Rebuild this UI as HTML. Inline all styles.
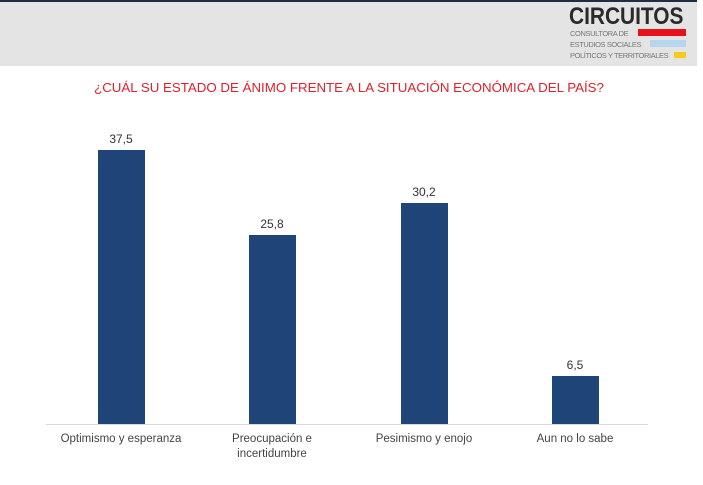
<!DOCTYPE html>
<html><head><meta charset="utf-8"><style>
body{margin:0;width:703px;height:485px;background:#fff;position:relative;overflow:hidden;font-family:"Liberation Sans",sans-serif}
.a{position:absolute}
.bar{position:absolute;background:#1f4477;width:47px}
.v{position:absolute;width:60px;text-align:center;font-size:12px;color:#333}
.l{position:absolute;width:150px;text-align:center;font-size:11.5px;color:#444;top:432px;line-height:15px}
.s{position:absolute;left:570px;font-size:7.5px;color:#777;letter-spacing:-0.4px;white-space:nowrap}
</style></head><body>
<div class="a" style="left:0;top:0;width:697px;height:66px;background:#e4e4e4;border-top:2px solid #1e2e44;box-sizing:border-box"></div>
<div class="a" style="left:569px;top:3px;font-size:24px;font-weight:bold;color:#2a2a2a;transform:scaleX(0.87);transform-origin:0 0;white-space:nowrap">CIRCUITOS</div>
<div class="s" style="top:29px">CONSULTORA DE</div>
<div class="s" style="top:40px">ESTUDIOS SOCIALES</div>
<div class="s" style="top:51px">POLÍTICOS Y TERRITORIALES</div>
<div class="a" style="left:638px;top:29px;width:48px;height:7px;background:#e8111b"></div>
<div class="a" style="left:650px;top:40px;width:36px;height:7px;background:#b7d6ee"></div>
<div class="a" style="left:674px;top:52px;width:12px;height:6px;background:#f5cc1a"></div>
<div class="a" style="left:0;width:698px;top:80px;text-align:center;font-size:13.3px;color:#e0202a">¿CUÁL SU ESTADO DE ÁNIMO FRENTE A LA SITUACIÓN ECONÓMICA DEL PAÍS?</div>
<div class="a" style="left:46px;top:424px;width:602px;height:1px;background:#d8d8d8"></div>
<div class="bar" style="left:98px;top:150px;height:274px"></div>
<div class="bar" style="left:249px;top:235px;height:189px"></div>
<div class="bar" style="left:401px;top:203px;height:221px"></div>
<div class="bar" style="left:552px;top:376px;height:48px"></div>
<div class="v" style="left:91px;top:132px">37,5</div>
<div class="v" style="left:242px;top:217px">25,8</div>
<div class="v" style="left:394px;top:185px">30,2</div>
<div class="v" style="left:545px;top:358px">6,5</div>
<div class="l" style="left:46px">Optimismo y esperanza</div>
<div class="l" style="left:197px">Preocupación e<br>incertidumbre</div>
<div class="l" style="left:349px">Pesimismo y enojo</div>
<div class="l" style="left:500px">Aun no lo sabe</div>
</body></html>
